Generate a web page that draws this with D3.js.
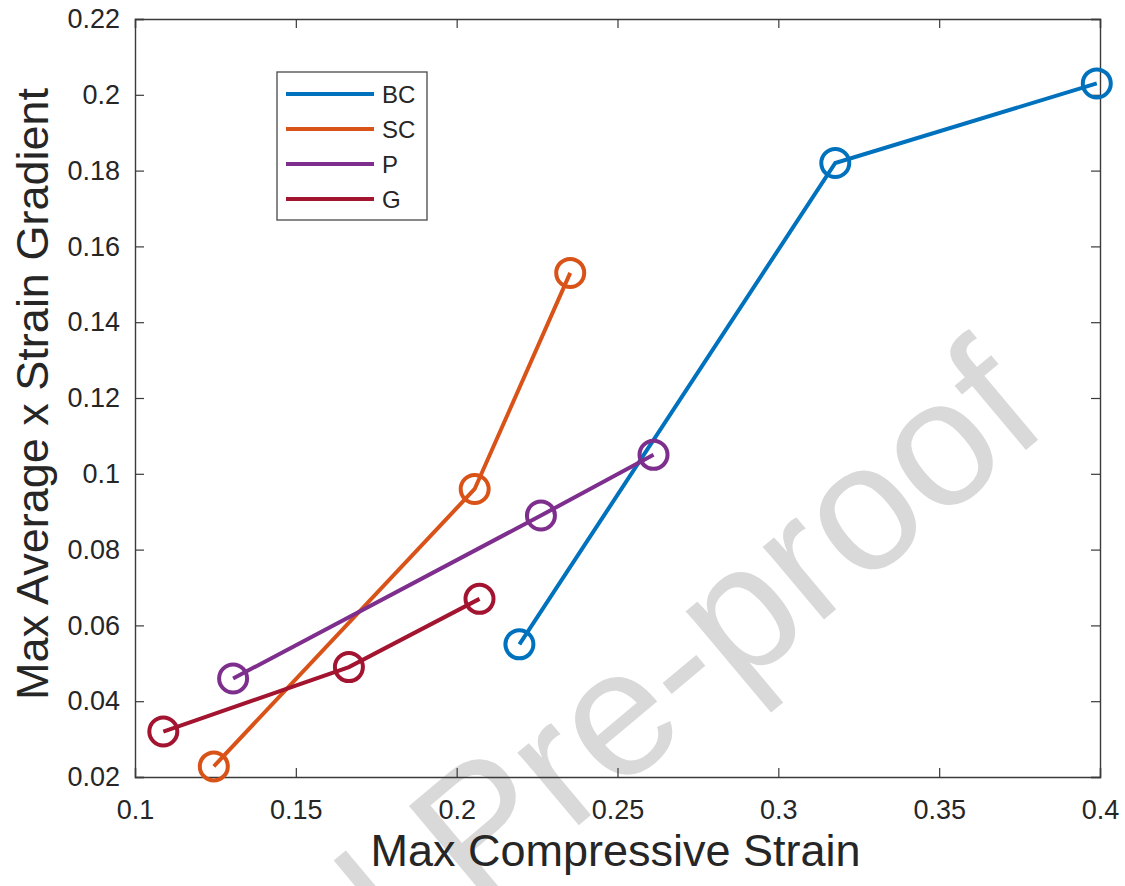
<!DOCTYPE html>
<html>
<head>
<meta charset="utf-8">
<script src="https://cdn.jsdelivr.net/npm/d3@7"></script>
<style>
  body { margin: 0; background: #fff; }
  svg text { font-family: "Liberation Sans", Arial, sans-serif; fill: #262626; }
</style>
</head>
<body>
<div id="chart"></div>
<script>
// series
const seriesNames = ["BC", "SC", "P", "G"]
const bcX = [0.2195, 0.3177, 0.399]
const bcY = [0.055, 0.182, 0.203]
const scX = [0.1245, 0.2056, 0.2353]
const scY = [0.0228, 0.096, 0.153]
const pX = [0.1305, 0.2262, 0.2612]
const pY = [0.046, 0.089, 0.105]
const gX = [0.1088, 0.1665, 0.2071]
const gY = [0.032, 0.049, 0.067]

const xTicks = [0.1, 0.15, 0.2, 0.25, 0.3, 0.35, 0.4]
const yTicks = [0.02, 0.04, 0.06, 0.08, 0.1, 0.12, 0.14, 0.16, 0.18, 0.2, 0.22]

const colors = ["#0072BD", "#D95319", "#7E2F8E", "#A2142F"]

const width = 1125,
    height = 886;
const margin = {top: 19, right: 25, bottom: 109, left: 135};

const x = d3.scaleLinear().domain([0.1, 0.4]).range([margin.left, width - margin.right])
const y = d3.scaleLinear().domain([0.02, 0.22]).range([height - margin.bottom, margin.top])

const svg = d3.select("#chart")
  .append("svg")
    .attr("width", width)
    .attr("height", height)

// watermark, underneath everything
svg.append("text")
    .attr("transform", "translate(1052,428) rotate(-40)")
    .attr("text-anchor", "end")
    .style("font-size", "180px")
    .style("fill", "#d9d9d9")
    .text("Journal Pre-proof")

const series = [
  {name: seriesNames[0], xs: bcX, ys: bcY},
  {name: seriesNames[1], xs: scX, ys: scY},
  {name: seriesNames[2], xs: pX, ys: pY},
  {name: seriesNames[3], xs: gX, ys: gY}
].map(s => ({name: s.name, pts: s.xs.map((v, i) => [v, s.ys[i]])}))

// axes (MATLAB style: inward ticks, box on)
const tickLen = 9
const fmt = d => String(+d.toFixed(2))

svg.append("g")
    .attr("transform", `translate(0,${y.range()[0]})`)
    .call(d3.axisBottom(x).tickValues(xTicks).tickSize(-tickLen).tickPadding(23).tickFormat(fmt))
svg.append("g")
    .attr("transform", `translate(0,${y.range()[1]})`)
    .call(d3.axisTop(x).tickValues(xTicks).tickSize(-tickLen).tickFormat(""))
svg.append("g")
    .attr("transform", `translate(${x.range()[0]},0)`)
    .call(d3.axisLeft(y).tickValues(yTicks).tickSize(-tickLen).tickPadding(15).tickFormat(fmt))
svg.append("g")
    .attr("transform", `translate(${x.range()[1]},0)`)
    .call(d3.axisRight(y).tickValues(yTicks).tickSize(-tickLen).tickFormat(""))

svg.selectAll(".domain").attr("stroke", "#3a3a3a").attr("stroke-width", 1.4)
svg.selectAll(".tick line").attr("stroke", "#3a3a3a").attr("stroke-width", 1.2)
svg.selectAll(".tick text")
    .style("font-size", "27px")
    .attr("fill", "#262626")
    .style("font-family", "'Liberation Sans', Arial, sans-serif")

// axis titles
svg.append("text")
    .attr("x", (x.range()[0] + x.range()[1]) / 2 - 2)
    .attr("y", 866)
    .attr("text-anchor", "middle")
    .style("font-size", "45px")
    .text("Max Compressive Strain")

svg.append("text")
    .attr("transform", `translate(48,${(y.range()[0] + y.range()[1]) / 2 - 4}) rotate(-90)`)
    .attr("text-anchor", "middle")
    .style("font-size", "45px")
    .text("Max Average x Strain Gradient")

// lines + circle markers
const line = d3.line().x(d => x(d[0])).y(d => y(d[1]))

const g = svg.selectAll(".series")
  .data(series)
  .join("g")
    .attr("class", "series")

g.append("path")
    .attr("d", d => line(d.pts))
    .attr("fill", "none")
    .attr("stroke", (d, i) => colors[i])
    .attr("stroke-width", 4)

g.selectAll("circle")
  .data((d, i) => d.pts.map(p => ({p, c: colors[i]})))
  .join("circle")
    .attr("cx", d => x(d.p[0]))
    .attr("cy", d => y(d.p[1]))
    .attr("r", 14)
    .attr("fill", "none")
    .attr("stroke", d => d.c)
    .attr("stroke-width", 4)

// legend
const legend = svg.append("g").attr("transform", "translate(277,72)")
legend.append("rect")
    .attr("width", 150)
    .attr("height", 148)
    .attr("fill", "#fff")
    .attr("stroke", "#555")
    .attr("stroke-width", 1.4)

const item = legend.selectAll(".item")
  .data(seriesNames)
  .join("g")
    .attr("transform", (d, i) => `translate(0,${22 + i * 35})`)
item.append("line")
    .attr("x1", 9).attr("x2", 97)
    .attr("stroke", (d, i) => colors[i])
    .attr("stroke-width", 4)
item.append("text")
    .attr("x", 105)
    .attr("dy", "0.36em")
    .style("font-size", "24px")
    .text(d => d)
</script>
</body>
</html>
